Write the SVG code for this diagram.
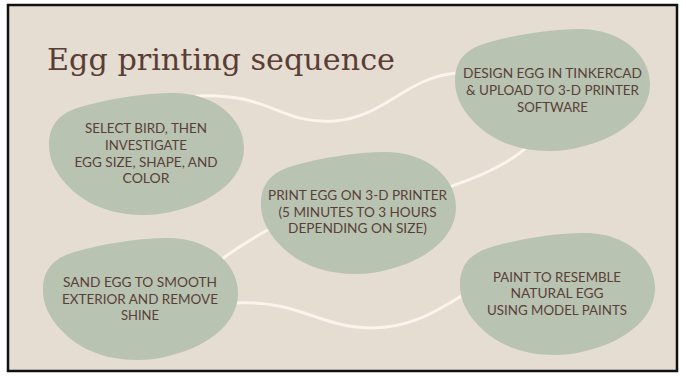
<svg xmlns="http://www.w3.org/2000/svg" xmlns:xlink="http://www.w3.org/1999/xlink" width="686" height="378" viewBox="0 0 686 378">
<style>
.bg{fill:#e5dcd2;stroke:#111;stroke-width:2.5}
.blob{fill:#b8c3b1}
.conn{fill:none;stroke:#fbf4ec;stroke-width:3;stroke-linecap:round}
.lbl{font-family:"Lato","Noto Sans",sans-serif;font-size:13.5px;fill:#5a3f38;text-anchor:middle}
.title{font-family:"DejaVu Serif","Liberation Serif",serif;font-size:30px;fill:#5a3d35}
</style>
<defs>
<path id="blobShape" d="M0,52 C0,30 12,19 35,13 C60,6 95,0 125,0 C165,0 195,25 195,55 C195,80 175,100 145,112 C125,119 110,122 95,122 C60,122 35,110 18,92 C5,78 0,65 0,52 Z"/>
</defs>
<rect x="0" y="0" width="686" height="378" fill="#ffffff"/>
<rect class="bg" x="8" y="5" width="669" height="366"/>
<text class="title" x="47" y="70" textLength="348" lengthAdjust="spacingAndGlyphs">Egg printing sequence</text>
<g id="connectors">
<path class="conn" d="M197,96 C270,92 280,125 335,121 C385,117 405,78 456,73"/>
<path class="conn" d="M528,146 Q505,168 452,186"/>
<path class="conn" d="M273,227 Q240,245 218,262"/>
<path class="conn" d="M236,303 C300,300 320,328 372,328 C410,328 435,312 463,295"/>
</g>
<g id="node1">
<use xlink:href="#blobShape" class="blob" transform="translate(49,93)"/>
<text class="lbl" x="146" y="133" textLength="122" lengthAdjust="spacingAndGlyphs">SELECT BIRD, THEN</text>
<text class="lbl" x="146" y="150" textLength="82" lengthAdjust="spacingAndGlyphs">INVESTIGATE</text>
<text class="lbl" x="146" y="167" textLength="143" lengthAdjust="spacingAndGlyphs">EGG SIZE, SHAPE, AND</text>
<text class="lbl" x="146" y="183" textLength="47" lengthAdjust="spacingAndGlyphs">COLOR</text>
</g>
<g id="node2">
<use xlink:href="#blobShape" class="blob" transform="translate(455,29)"/>
<text class="lbl" x="552.5" y="78" textLength="179" lengthAdjust="spacingAndGlyphs">DESIGN EGG IN TINKERCAD</text>
<text class="lbl" x="552.5" y="95" textLength="173" lengthAdjust="spacingAndGlyphs">&amp; UPLOAD TO 3-D PRINTER</text>
<text class="lbl" x="552.5" y="112" textLength="71" lengthAdjust="spacingAndGlyphs">SOFTWARE</text>
</g>
<g id="node3">
<use xlink:href="#blobShape" class="blob" transform="translate(261,152)"/>
<text class="lbl" x="357.5" y="200" textLength="179" lengthAdjust="spacingAndGlyphs">PRINT EGG ON 3-D PRINTER</text>
<text class="lbl" x="357.5" y="217" textLength="158" lengthAdjust="spacingAndGlyphs">(5 MINUTES TO 3 HOURS</text>
<text class="lbl" x="357.5" y="233" textLength="139" lengthAdjust="spacingAndGlyphs">DEPENDING ON SIZE)</text>
</g>
<g id="node4">
<use xlink:href="#blobShape" class="blob" transform="translate(43,238)"/>
<text class="lbl" x="140" y="287" textLength="154" lengthAdjust="spacingAndGlyphs">SAND EGG TO SMOOTH</text>
<text class="lbl" x="140" y="304" textLength="156" lengthAdjust="spacingAndGlyphs">EXTERIOR AND REMOVE</text>
<text class="lbl" x="140" y="320" textLength="38" lengthAdjust="spacingAndGlyphs">SHINE</text>
</g>
<g id="node5">
<use xlink:href="#blobShape" class="blob" transform="translate(460,233)"/>
<text class="lbl" x="557" y="282" textLength="128" lengthAdjust="spacingAndGlyphs">PAINT TO RESEMBLE</text>
<text class="lbl" x="557" y="298" textLength="93" lengthAdjust="spacingAndGlyphs">NATURAL EGG</text>
<text class="lbl" x="557" y="315" textLength="140" lengthAdjust="spacingAndGlyphs">USING MODEL PAINTS</text>
</g>
</svg>
